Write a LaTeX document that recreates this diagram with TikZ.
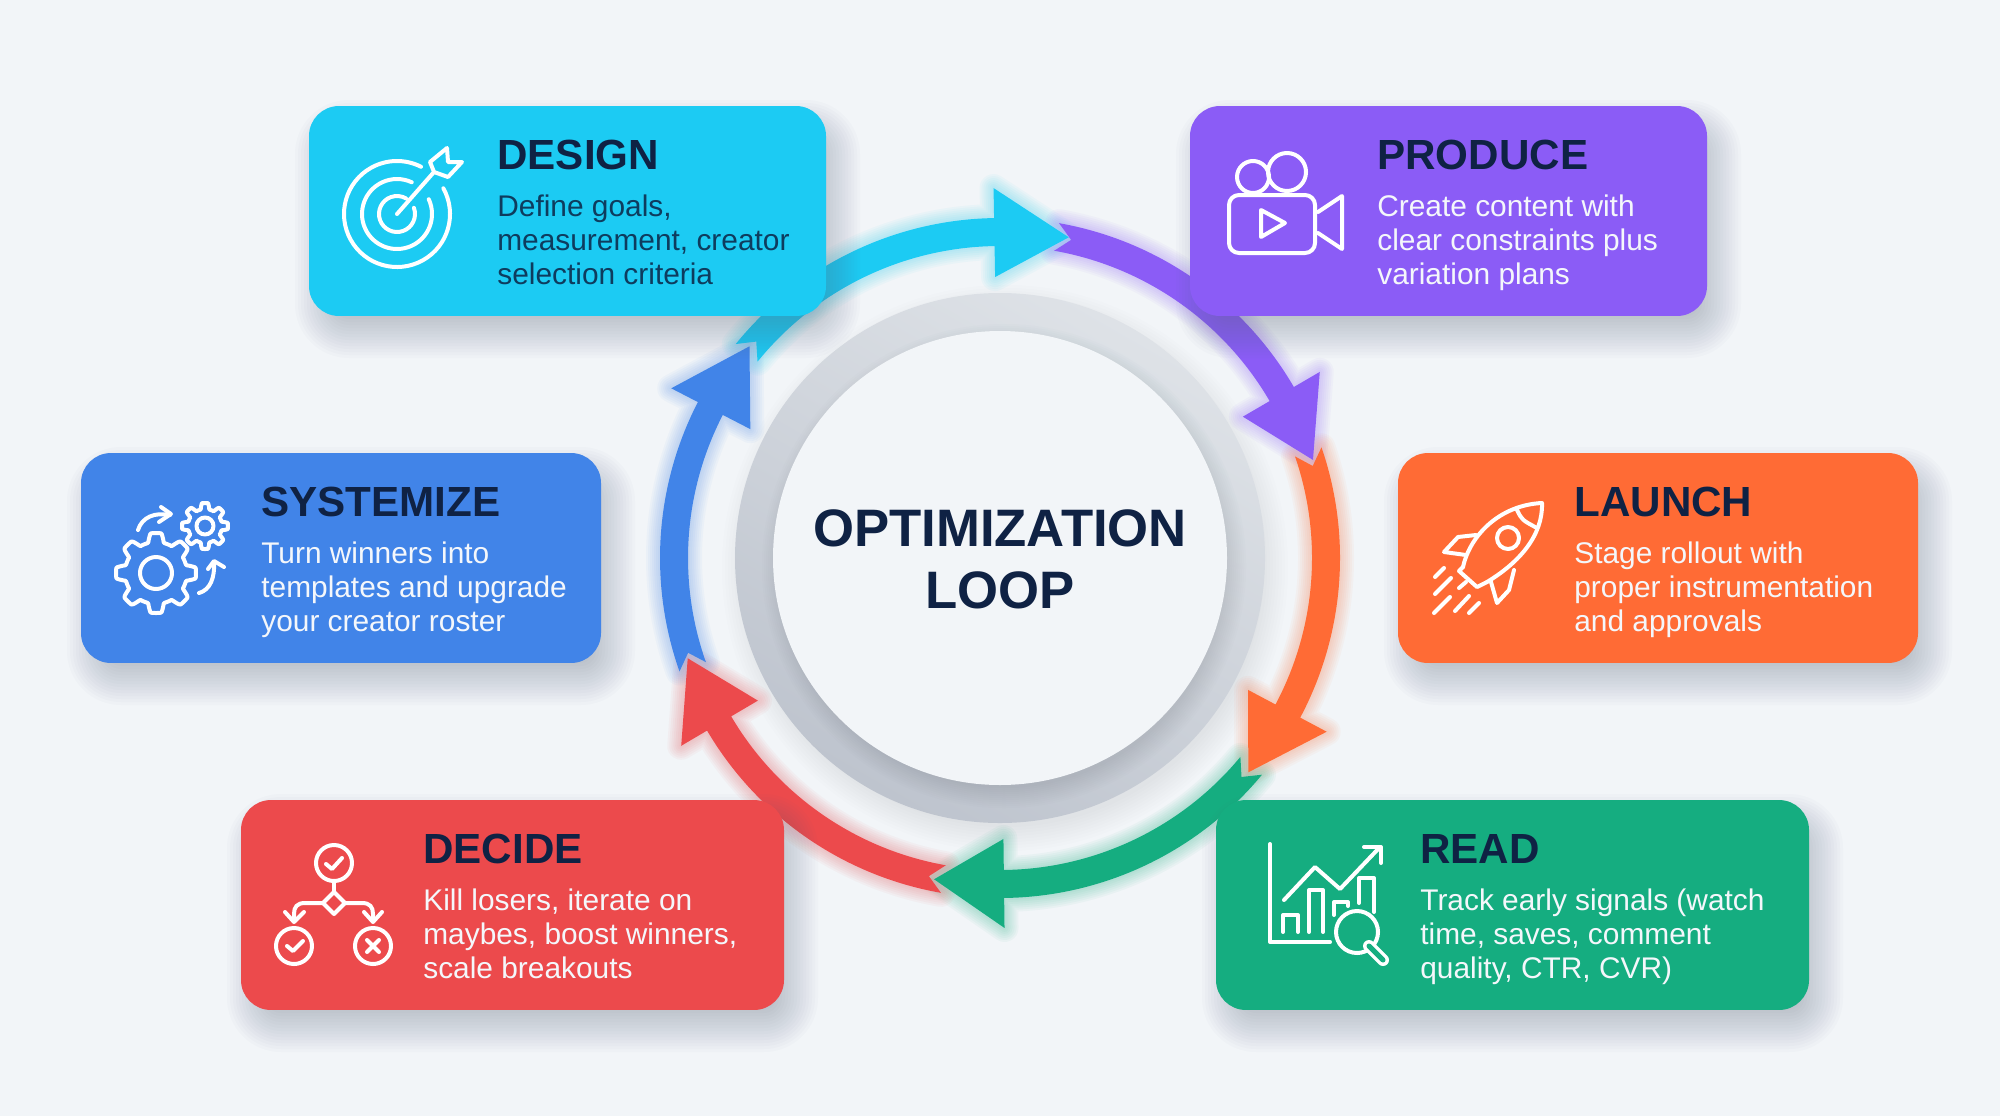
\documentclass[tikz,border=0pt]{standalone}
\usepackage{fontspec}
\setmainfont{Liberation Sans}
\usetikzlibrary{calc}

\definecolor{fondo}{HTML}{F2F5F8}
\definecolor{tinta}{HTML}{0F2244}
\definecolor{tintacyan}{HTML}{0E3C5E}
\definecolor{claro}{HTML}{F4F7FB}
\definecolor{sombra}{HTML}{56637A}
\definecolor{anilloa}{HTML}{DEE2E7}
\definecolor{anillob}{HTML}{BEC4CE}
\definecolor{cardcyan}{HTML}{1CCBF3}
\definecolor{cardpurple}{HTML}{8B5CF6}
\definecolor{cardblue}{HTML}{4184E8}
\definecolor{cardorange}{HTML}{FF6B35}
\definecolor{cardred}{HTML}{EC4A4C}
\definecolor{cardgreen}{HTML}{15AD80}

\tikzset{
  card/.style={rounded corners=0.6cm, minimum height=4.2cm, inner sep=0pt},
  cardtitle/.style={anchor=base west, inner sep=0pt, text=tinta,
    font=\fontsize{24}{29}\selectfont\bfseries},
  cardbody/.style={anchor=base west, inner sep=0pt, align=left,
    font=\fontsize{17}{19.3}\selectfont},
  looplabel/.style={inner sep=0pt, align=center, text=tinta,
    font=\fontsize{30}{35.2}\selectfont\bfseries},
  icono/.style={white, line width=0.08cm, line cap=round, line join=round}
}

% Contorno de una flecha del lazo: cola, base de la punta, punta
\newcommand{\looppath}[3]{(#1:340) arc[start angle=#1, end angle=#2, radius=340]
  -- (#2:370) -- (#3:328) -- (#2:281) -- (#2:312)
  arc[start angle=#2, end angle=#1, radius=312] -- ({#1-2.6}:326) -- cycle}

\begin{document}
\begin{tikzpicture}[x=0.02cm,y=-0.02cm]
  \useasboundingbox (0,0) rectangle (2000,1116);
  \fill[fondo] (0,0) rectangle (2000,1116);

  % Anillo central
  \foreach \s in {-6,-3,...,18}
    \fill[sombra, opacity=0.012] (1005,568) circle ({265+\s});
  \shade[even odd rule, top color=anilloa, bottom color=anillob, shading angle=-30]
    (1000,558) circle (265) (1000,558) circle (226);
  \foreach \s in {-4,-2,...,16}
    \fill[sombra, opacity=0.016] (1004,566) circle ({226+\s});
  \fill[fondo] (1000,558) circle (227);
  \node[looplabel] (centro) at (1000,559) {OPTIMIZATION\\LOOP};

  % Flechas del lazo
  \begin{scope}[shift={(1000,558)},y=0.02cm]
    \foreach \col/\a/\b/\t in {cardcyan/141/91/77.9, cardpurple/80/30.2/17.4,
        cardorange/19/-28/-40.8, cardgreen/-39.6/-89.3/-101.6,
        cardred/-100/-149.5/-162.2, cardblue/199.5/152.7/139.8}
      \foreach \w in {4,8,...,28}
        \draw[\col, opacity=0.045, line width=\w*0.02cm, line join=round]
          \looppath{\a}{\b}{\t};
    \foreach \col/\a/\b/\t in {cardcyan/141/91/77.9, cardpurple/80/30.2/17.4,
        cardorange/19/-28/-40.8, cardgreen/-39.6/-89.3/-101.6,
        cardred/-100/-149.5/-162.2, cardblue/199.5/152.7/139.8}
      \fill[\col] \looppath{\a}{\b}{\t};
  \end{scope}

  % Tarjetas
  \foreach \name/\col/\xa/\xb/\ya/\tx/\tcol/\titulo/\texto in {
      design/cardcyan/309/826/106/497/tintacyan/DESIGN/{Define goals,\\measurement, creator\\selection criteria},
      produce/cardpurple/1190/1707/106/1377/claro/PRODUCE/{Create content with\\clear constraints plus\\variation plans},
      systemize/cardblue/81/601/453/261/claro/SYSTEMIZE/{Turn winners into\\templates and upgrade\\your creator roster},
      launch/cardorange/1398/1918/453/1574/claro/LAUNCH/{Stage rollout with\\proper instrumentation\\and approvals},
      decide/cardred/241/784/800/423/claro/DECIDE/{Kill losers, iterate on\\maybes, boost winners,\\scale breakouts},
      read/cardgreen/1216/1809/800/1420/claro/READ/{Track early signals (watch\\time, saves, comment\\quality, CTR, CVR)}} {
    \foreach \s in {-21,-18,...,24} {
      \pgfmathsetlengthmacro{\rad}{(30+\s)*0.02cm}
      \fill[sombra, opacity=0.024, rounded corners=\rad]
        ({\xa-\s+10},{\ya-\s+18}) rectangle ({\xb+\s+10},{\ya+210+\s+18});
    }
    \node[card, fill=\col, minimum width={(\xb-\xa)*0.02cm}] (\name) at ({(\xa+\xb)/2},{\ya+105}) {};
    \node[cardtitle] (\name title) at (\tx,{\ya+63}) {\titulo};
    \node[cardbody, text=\tcol] (\name body) at (\tx,{\ya+178}) {\texto};
  }

  % Icono: diana
  \draw[icono] (397,214) ++(-29:53) arc[start angle=-29, end angle=297, radius=53];
  \draw[icono] (397,214) ++(-25:35) arc[start angle=-25, end angle=295, radius=35];
  \draw[icono] (397,214) ++(-20:18) arc[start angle=-20, end angle=300, radius=18];
  \draw[icono] (397,214) -- (434,172);
  \draw[icono] (430,162) -- (447,148) -- (448,162) -- (462,162) -- (448,177) -- (434,172) -- cycle;

  % Icono: camara
  \draw[icono] (1253,177) circle (16);
  \draw[icono] (1287,172) circle (19);
  \draw[icono, rounded corners=0.2cm] (1229,195) rectangle (1315,253);
  \draw[icono] (1318,212) -- (1342,196) -- (1342,249) -- (1318,233);
  \draw[icono] (1261,210) -- (1285,223) -- (1261,237) -- cycle;

  % Icono: engranajes
  \draw[icono, shift={(156,573)}] plot[domain=0:360, samples=181]
    (\x:{35.5+4.5*max(-1,min(1,2.2*cos(8*\x)))}) -- cycle;
  \draw[icono] (156,573) circle (16);
  \draw[icono, shift={(205,526)}] plot[domain=0:360, samples=181]
    (\x:{20+3*max(-1,min(1,2.2*cos(8*\x)))}) -- cycle;
  \draw[icono] (205,526) circle (8.5);
  \draw[icono] (138,530) .. controls (142,517) and (155,512) .. (170,515);
  \draw[icono] (161,507) -- (171,514) -- (159,522);
  \draw[icono] (199,593) .. controls (210,590) and (215,578) .. (214,562);
  \draw[icono] (208,569) -- (214,561) -- (224,567);

  % Icono: cohete
  \draw[icono] (1463,567) .. controls (1470,535) and (1500,505) .. (1542,503)
    .. controls (1543,535) and (1520,562) .. (1487,582);
  \draw[icono] (1463,567) -- (1459,571) -- (1477,587) -- (1487,582);
  \draw[icono] (1517,510) .. controls (1522,520) .. (1537,528);
  \draw[icono] (1508,538) circle (11);
  \draw[icono] (1476,535) -- (1458,537) -- (1444,552) -- (1466,555);
  \draw[icono] (1514,570) -- (1509,590) -- (1497,603) -- (1491,582);
  \foreach \xi/\yi/\xf/\yf in {1435/577/1444/568, 1435/594/1451/578, 1459/588/1466/582,
      1434/613/1450/597, 1455/611/1469/596, 1469/613/1479/603}
    \draw[icono] (\xi,\yi) -- (\xf,\yf);

  % Icono: decision
  \draw[icono] (334,863) circle (18);
  \draw[icono] (326,864) -- (332,869) -- (342,858);
  \draw[icono] (334,881) -- (334,892);
  \draw[icono] (334,892) -- (345,903) -- (334,914) -- (323,903) -- cycle;
  \draw[icono] (323,903) -- (305,903) .. controls (297,903) and (294,907) .. (294,914) -- (294,921);
  \draw[icono] (285,912) -- (294,922) -- (304,912);
  \draw[icono] (345,903) -- (362,903) .. controls (370,903) and (373,907) .. (373,914) -- (373,921);
  \draw[icono] (364,912) -- (373,922) -- (382,912);
  \draw[icono] (294,946) circle (18);
  \draw[icono] (287,946) -- (293,951) -- (303,941);
  \draw[icono] (373,946) circle (18);
  \draw[icono] (367,940) -- (379,952);
  \draw[icono] (379,940) -- (367,952);

  % Icono: grafica con lupa
  \draw[icono] (1270,844) -- (1270,942) -- (1330,942);
  \draw[icono] (1283,932) -- (1283,915) -- (1298,915) -- (1298,932);
  \draw[icono] (1309,932) -- (1309,890) -- (1323,890) -- (1323,932);
  \draw[icono] (1334,915) -- (1334,902) -- (1348,902) -- (1348,906);
  \draw[icono] (1359,903) -- (1359,878) -- (1374,878) -- (1374,912);
  \draw[icono] (1284,900) -- (1315,867) -- (1340,889) -- (1380,847);
  \draw[icono] (1364,847) -- (1381,847) -- (1381,863);
  \draw[icono] (1357,932) circle (21);
  \draw[icono, line width=0.07cm, double=cardgreen, double distance=0.1cm] (1369,946) -- (1383,960);
\end{tikzpicture}
\end{document}
